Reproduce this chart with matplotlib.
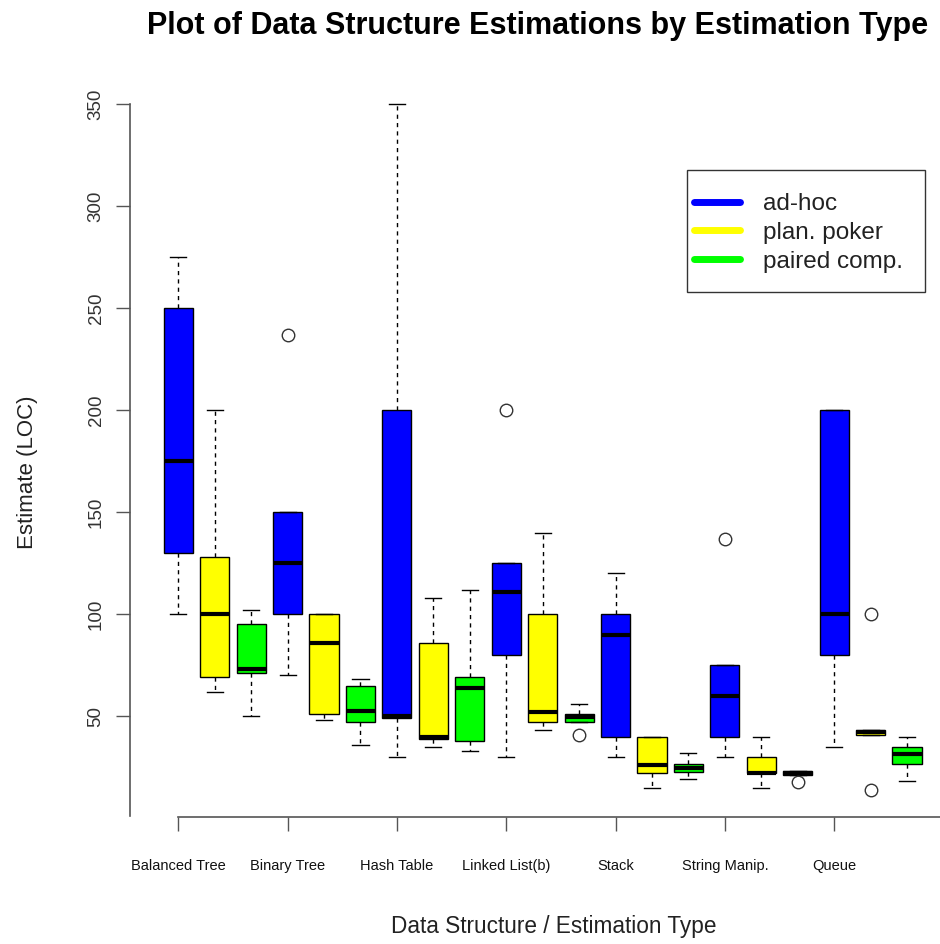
import matplotlib
matplotlib.use("Agg")
import matplotlib.pyplot as plt
from matplotlib.lines import Line2D
from matplotlib.patches import Rectangle

structures = ["Balanced Tree", "Binary Tree", "Hash Table", "Linked List(b)",
              "Stack", "String Manip.", "Queue"]
methods = ["ad-hoc", "plan. poker", "paired comp."]
colors = ["#0000ff", "#ffff00", "#00ff00"]

# per box (structure-major, method-minor): whisker low, q1, median, q3, whisker high
whislo = [100, 62, 50,   70, 48, 36,   30, 35, 33,   30, 43, 47,   30, 15, 19,   30, 15, 21,   35, 41, 18]
q1     = [130, 69, 71,  100, 51, 47,   49, 39, 38,   80, 47, 47,   40, 22, 22.5, 40, 22, 21,   80, 41, 26.5]
med    = [175, 100, 73, 125, 86, 52.5, 50, 40, 64,  111, 52, 49.5, 90, 26, 24.5, 60, 22, 22,  100, 42, 31.5]
q3     = [250, 128, 95, 150, 100, 65, 200, 86, 69,  125, 100, 51, 100, 40, 26.5, 75, 30, 23,  200, 43, 35]
whishi = [275, 200, 102, 150, 100, 68, 350, 108, 112, 125, 140, 56, 120, 40, 32,  75, 40, 23,  200, 43, 40]
fliers = [[], [], [],  [237], [], [],  [], [], [],  [200], [], [41],  [], [], [],  [137], [], [17.5],  [], [100, 14], []]

fig = plt.figure(figsize=(9.4, 9.44), dpi=100)
W, H = 940, 944
ax = fig.add_axes([129.5 / W, 1 - 817 / H, (955.8 - 129.5) / W, (817 - 77) / H])

stats = []
for i in range(len(med)):
    stats.append(dict(whislo=whislo[i], q1=q1[i], med=med[i], q3=q3[i],
                      whishi=whishi[i], fliers=fliers[i]))
positions = list(range(1, len(med) + 1))
bp = ax.bxp(stats, positions=positions, widths=0.8, patch_artist=True,
            showcaps=True,
            boxprops=dict(edgecolor="black", linewidth=1.0),
            medianprops=dict(color="black", linewidth=3, solid_capstyle="butt"),
            whiskerprops=dict(color="black", linestyle=(0, (3, 3)), linewidth=1.0),
            capprops=dict(color="black", linewidth=1.0),
            flierprops=dict(marker="o", markerfacecolor="none", markeredgecolor="#333333",
                            markersize=9, markeredgewidth=1.0))
for i, patch in enumerate(bp["boxes"]):
    patch.set_facecolor(colors[i % 3])
for cap in bp["caps"]:
    x = cap.get_xdata()
    c = (x[0] + x[1]) / 2
    cap.set_xdata([c - 0.22, c + 0.22])

ax.set_xlim(-0.34, 22.34)
ax.set_ylim(0.56, 363.4)

for s in ["top", "right"]:
    ax.spines[s].set_visible(False)
ax.spines["left"].set_bounds(1, 350)
ax.spines["bottom"].set_bounds(1, 22)
for s in ["left", "bottom"]:
    ax.spines[s].set_color("#555555")
    ax.spines[s].set_linewidth(1.2)

ax.set_yticks([50, 100, 150, 200, 250, 300, 350])
ax.set_yticklabels(["50", "100", "150", "200", "250", "300", "350"],
                   rotation=90, va="center", fontsize=13.5, color="#333333",
                   family="Liberation Sans")
ax.set_xticks([1, 4, 7, 10, 13, 16, 19, 22])
ax.set_xticklabels(structures + [""], fontsize=10.5, family="Liberation Sans", color="#111111")
ax.tick_params(axis="y", length=10, width=1.0, color="#555555", pad=8)
ax.tick_params(axis="x", length=10, width=1.0, color="#555555", pad=20)

fig.text(28 / W, 1 - 472 / H, "Estimate (LOC)", rotation=90, ha="center", va="center",
         fontsize=16, family="Liberation Sans", color="#222222")
fig.text(554 / W, 1 - 927 / H, "Data Structure / Estimation Type", ha="center", va="center",
         fontsize=16.3, family="Liberation Sans", color="#222222")
fig.text(538 / W, 1 - 26 / H, "Plot of Data Structure Estimations by Estimation Type",
         ha="center", va="center", fontsize=22, fontweight="bold",
         family="Liberation Sans", color="black")

# legend: frame drawn separately for R-like asymmetric padding
frame = Rectangle((687 / W, 1 - 292 / H), (925 - 687) / W, (292 - 170) / H,
                  transform=fig.transFigure, facecolor="white", edgecolor="#333333",
                  linewidth=1.0, zorder=4)
fig.add_artist(frame)
handles = [Line2D([0], [0], color=c, linewidth=5, solid_capstyle="round") for c in colors]
leg = fig.legend(handles, methods, loc="upper left",
                 bbox_to_anchor=(694 / W, 1 - 193 / H), bbox_transform=fig.transFigure,
                 prop=dict(family="Liberation Sans", size=17.5), frameon=False,
                 handlelength=1.9, handletextpad=0.95,
                 labelspacing=0.28, borderpad=0, borderaxespad=0, labelcolor="#222222")
leg.set_zorder(5)

fig.savefig("out.png", dpi=100, facecolor="white")
